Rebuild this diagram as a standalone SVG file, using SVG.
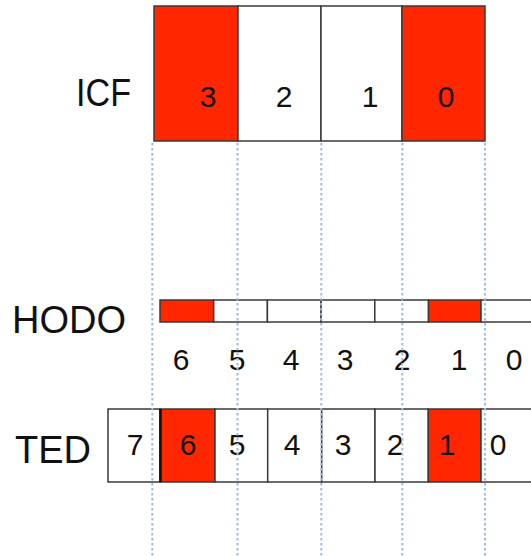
<svg xmlns="http://www.w3.org/2000/svg" width="531" height="556" viewBox="0 0 531 556">
<style>
.cell{stroke:#3a3a3a;stroke-width:1.5;fill:#ffffff}
.red{fill:#ff2600}
.lbl{font-family:"Liberation Sans",Arial,sans-serif;font-size:38px;fill:#111}
.num{font-family:"Liberation Sans",Arial,sans-serif;font-size:30px;fill:#111;text-anchor:middle}
.guide{stroke:#a3bcdc;stroke-width:2;stroke-dasharray:2.5 2.5;fill:none}
</style>
<rect width="531" height="556" fill="#ffffff"/>
<g id="labels">
<text class="lbl" x="76" y="106" textLength="55" lengthAdjust="spacingAndGlyphs">ICF</text>
<text class="lbl" x="12" y="333">HODO</text>
<text class="lbl" x="15" y="463">TED</text>
</g>
<g id="icf">
<rect class="cell red" x="154" y="6" width="84" height="135"/>
<rect class="cell" x="238" y="6" width="83" height="135"/>
<rect class="cell" x="321" y="6" width="81" height="135"/>
<rect class="cell red" x="402" y="6" width="83" height="135"/>
<text class="num" x="208" y="107" font-size="33">3</text>
<text class="num" x="284" y="107" font-size="33">2</text>
<text class="num" x="370" y="107" font-size="33">1</text>
<text class="num" x="446" y="107" font-size="33">0</text>
</g>
<g id="hodo">
<rect class="cell red" x="160" y="300" width="53.7" height="22"/>
<rect class="cell" x="213.7" y="300" width="53.7" height="22"/>
<rect class="cell" x="267.4" y="300" width="53.7" height="22"/>
<rect class="cell" x="321.1" y="300" width="53.7" height="22"/>
<rect class="cell" x="374.8" y="300" width="53.7" height="22"/>
<rect class="cell red" x="428.5" y="300" width="52.5" height="22"/>
<rect class="cell" x="481" y="300" width="60" height="22"/>
<text class="num" x="181" y="370">6</text>
<text class="num" x="237" y="370">5</text>
<text class="num" x="291" y="370">4</text>
<text class="num" x="345" y="370">3</text>
<text class="num" x="402" y="370">2</text>
<text class="num" x="459" y="370">1</text>
<text class="num" x="514" y="370">0</text>
</g>
<g id="ted">
<rect class="cell" x="108" y="409" width="52" height="73"/>
<rect class="cell red" x="160" y="409" width="55" height="73"/>
<rect class="cell" x="215" y="409" width="52.7" height="73"/>
<rect class="cell" x="267.7" y="409" width="54" height="73"/>
<rect class="cell" x="321.7" y="409" width="53.3" height="73"/>
<rect class="cell" x="375" y="409" width="53.3" height="73"/>
<rect class="cell red" x="428.3" y="409" width="52.7" height="73"/>
<rect class="cell" x="481" y="409" width="60" height="73"/>
<line x1="160.5" y1="409" x2="160.5" y2="482" stroke="#111" stroke-width="2.5"/>
<text class="num" x="135" y="455">7</text>
<text class="num" x="188" y="455">6</text>
<text class="num" x="237" y="455">5</text>
<text class="num" x="292" y="455">4</text>
<text class="num" x="343" y="455">3</text>
<text class="num" x="395" y="455">2</text>
<text class="num" x="447" y="455">1</text>
<text class="num" x="498" y="455">0</text>
</g>
<g id="connectors">
<line class="guide" x1="152.3" y1="143" x2="152.3" y2="556"/>
<line class="guide" x1="237.5" y1="143" x2="237.5" y2="556"/>
<line class="guide" x1="321.3" y1="143" x2="321.3" y2="556"/>
<line class="guide" x1="402.3" y1="143" x2="402.3" y2="556"/>
<line class="guide" x1="485" y1="143" x2="485" y2="556"/>
</g>
</svg>
